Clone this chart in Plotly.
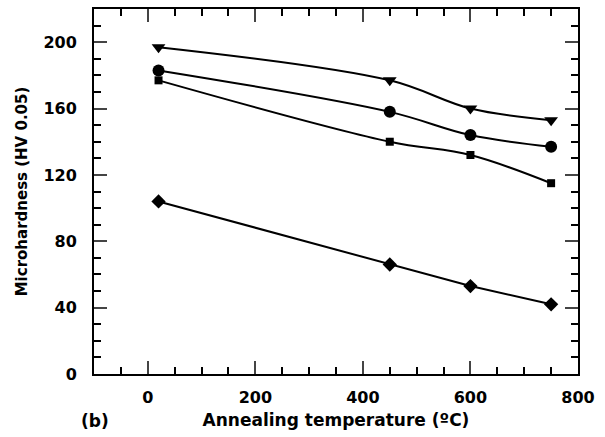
import plotly.graph_objects as go

temps = [20, 450, 600, 750]
tri = [197, 177, 160, 153]
circ = [183, 158, 144, 137]
sq = [177, 140, 132, 115]
dia = [104, 66, 53, 42]

x_ticks = [0, 200, 400, 600, 800]
y_ticks = [0, 40, 80, 120, 160, 200]

fig = go.Figure()
series = [
    (tri, "triangle-down", 12, "spline"),
    (circ, "circle", 12, "spline"),
    (sq, "square", 8, "spline"),
    (dia, "diamond", 11, "linear"),
]
for ys, sym, sz, shape in series:
    fig.add_trace(go.Scatter(
        x=temps, y=ys, mode="lines+markers",
        line=dict(color="black", width=2, shape=shape, smoothing=1.0),
        marker=dict(symbol=sym, size=sz, color="black"),
        showlegend=False,
    ))

tickfont = dict(family="DejaVu Sans", size=16, color="black", weight="bold")
fig.update_xaxes(
    range=[-100, 800], tickvals=x_ticks, ticks="inside", ticklen=13, tickwidth=2,
    showline=True, linewidth=2, linecolor="black", mirror="ticks",
    showgrid=False, zeroline=False, tickfont=tickfont, ticklabelstandoff=8,
    minor=dict(dtick=50, tick0=0, ticks="inside", ticklen=7, tickwidth=2, tickcolor="black", showgrid=False),
    title=dict(text="Annealing temperature (ºC)", font=dict(family="DejaVu Sans", size=17, color="black", weight="bold"), standoff=8),
)
fig.update_yaxes(
    range=[0, 220], tickvals=y_ticks, ticks="inside", ticklen=13, tickwidth=2,
    showline=True, linewidth=2, linecolor="black", mirror="ticks",
    showgrid=False, zeroline=False, tickfont=tickfont, ticklabelstandoff=12,
    minor=dict(dtick=10, tick0=0, ticks="inside", ticklen=7, tickwidth=2, tickcolor="black", showgrid=False),
    title=dict(text="Microhardness (HV 0.05)", font=dict(family="DejaVu Sans", size=15, color="black", weight="bold"), standoff=12),
)
fig.add_annotation(text="(b)", xref="paper", yref="paper", x=0.002, y=-0.13,
                   xanchor="center", yanchor="middle", showarrow=False,
                   font=dict(family="DejaVu Sans", size=17, color="black", weight="bold"))
fig.update_layout(
    width=605, height=437, margin=dict(l=94, r=27, t=7, b=63),
    plot_bgcolor="white", paper_bgcolor="white",
)
fig.write_html("out.html")
